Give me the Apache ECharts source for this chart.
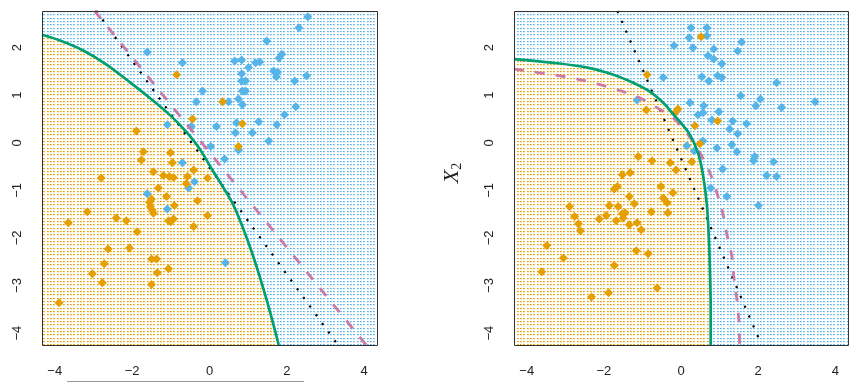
<!DOCTYPE html>
<html><head><meta charset="utf-8">
<script src="https://cdn.jsdelivr.net/npm/echarts@6/dist/echarts.min.js"></script>
<style>html,body{margin:0;padding:0;background:#fff}#c{width:868px;height:382px}</style>
</head><body><div id="c"></div>
<script>
// ---- tick labels ----
const xTicks = [-4, -2, 0, 2, 4];
const yTicks = [-4, -3, -2, -1, 0, 1, 2];
const xRange = [-4.33, 4.33];
const yRange = [-4.25, 2.77];
const yAxisTitle = 'X';
const yAxisSub = '2';

// ---- left panel (equal covariances) ----
const leftOrange = [[-0.85,1.43],[0.34,0.86],[-0.44,0.50],[0.85,0.40],[-1.89,0.25],[0.75,-0.08],[-1.71,-0.19],[-1.01,-0.21],[-1.76,-0.36],[-0.96,-0.42],[-0.41,-0.57],[-1.45,-0.61],[-1.19,-0.69],[-1.04,-0.71],[-0.93,-0.73],[-0.57,-0.71],[-0.05,-0.74],[-2.80,-0.74],[-1.32,-0.95],[-0.60,-0.86],[-1.11,-1.13],[-1.50,-1.18],[-0.31,-1.22],[-0.91,-1.32],[-1.53,-1.34],[-1.48,-1.41],[-1.45,-1.48],[-0.05,-1.53],[-2.15,-1.64],[-1.06,-1.64],[-0.93,-1.60],[-0.41,-1.76],[-2.41,-1.58],[-1.87,-1.87],[-2.62,-2.23],[-2.07,-2.21],[-1.50,-2.44],[-1.37,-2.44],[-1.06,-2.65],[-2.72,-2.54],[-1.35,-2.73],[-2.77,-2.94],[-1.50,-2.98],[-3.16,-1.45],[-3.65,-1.68],[-3.03,-2.75],[-3.89,-3.36],[-1.55,-1.25],[-1.00,-1.66]];
const leftBlue = [[-1.61,1.91],[-0.70,1.68],[-0.18,1.09],[-0.34,0.86],[-1.09,0.38],[-0.47,0.34],[0.18,0.34],[0.03,-0.08],[-0.70,-0.42],[2.54,2.65],[2.31,2.42],[1.48,2.14],[1.87,1.86],[1.80,1.78],[0.65,1.72],[0.83,1.74],[1.30,1.70],[1.19,1.68],[1.01,1.58],[1.66,1.51],[1.76,1.49],[1.73,1.39],[0.83,1.45],[0.83,1.30],[0.93,1.30],[2.20,1.30],[2.51,1.41],[0.85,1.09],[0.93,1.09],[0.49,0.86],[0.75,0.92],[0.85,0.80],[2.23,0.76],[1.94,0.59],[1.27,0.44],[1.74,0.38],[0.70,0.42],[0.67,0.21],[1.11,0.21],[1.53,0.04],[0.75,-0.15],[0.39,-0.34],[-0.39,-0.82],[-0.54,-0.95],[-1.61,-1.07],[-1.09,-1.39],[0.41,-2.52]];
const leftQDA = [[-4.33,2.27],[-3.83,2.14],[-3.29,1.95],[-2.69,1.66],[-2.07,1.28],[-1.48,0.90],[-0.98,0.55],[-0.60,0.23],[-0.26,-0.12],[0.05,-0.54],[0.31,-0.88],[0.60,-1.28],[0.85,-1.76],[1.09,-2.29],[1.30,-2.82],[1.55,-3.51],[1.79,-4.25]];
const leftBayes = [[-2.97,2.77],[4.05,-4.25]];
const leftLDA = [[-2.93,2.77],[3.32,-4.25]];

// ---- right panel (unequal covariances) ----
const rightOrange = [[0.52,2.23],[-0.88,1.43],[-0.90,0.69],[-0.08,0.71],[-0.13,0.65],[0.36,0.36],[0.95,0.46],[0.49,-0.02],[-0.75,-0.38],[-0.28,-0.42],[0.28,-0.40],[-0.13,-0.57],[-1.11,-0.29],[-1.52,-0.67],[-1.32,-0.63],[-1.73,-0.97],[-1.65,-0.92],[-0.52,-0.92],[-0.21,-1.05],[-1.34,-1.13],[-1.21,-1.28],[-0.46,-1.16],[-0.36,-1.26],[-1.86,-1.32],[-1.63,-1.34],[-2.89,-1.34],[-0.77,-1.45],[-1.52,-1.49],[-1.45,-1.47],[-0.34,-1.47],[-2.76,-1.55],[-1.94,-1.53],[-1.50,-1.58],[-2.12,-1.60],[-1.68,-1.64],[-2.66,-1.70],[-1.14,-1.68],[-1.34,-1.72],[-2.61,-1.85],[-1.03,-1.83],[-1.16,-2.27],[-0.85,-2.33],[-3.05,-2.42],[-1.73,-2.58],[-0.62,-3.05],[-1.88,-3.15],[-2.32,-3.24],[-3.48,-2.16],[-3.61,-2.71]];
const rightBlue = [[0.26,2.42],[0.67,2.42],[0.21,2.21],[0.67,2.25],[-0.18,2.04],[0.31,2.00],[0.85,1.97],[1.57,2.12],[1.47,1.93],[0.70,1.83],[0.85,1.76],[1.06,1.66],[-0.46,1.37],[0.54,1.39],[0.72,1.30],[0.95,1.41],[1.06,1.37],[2.48,1.26],[1.55,0.99],[2.06,0.92],[1.94,0.78],[2.61,0.74],[0.23,0.84],[0.59,0.78],[0.44,0.59],[0.57,0.63],[0.98,0.65],[0.80,0.48],[1.34,0.46],[1.70,0.40],[1.26,0.29],[1.47,0.19],[1.32,-0.04],[1.45,-0.19],[0.93,-0.11],[0.57,0.04],[0.15,-0.06],[0.34,-0.17],[1.91,-0.29],[1.88,-0.38],[2.40,-0.40],[3.48,0.86],[1.08,-0.55],[2.22,-0.69],[2.48,-0.71],[0.77,-0.95],[1.19,-1.13],[2.01,-1.32],[-1.14,0.90]];
const rightQDA = [[-4.33,1.76],[-3.30,1.68],[-2.43,1.58],[-1.75,1.43],[-1.24,1.26],[-0.80,1.07],[-0.46,0.84],[-0.21,0.61],[0.00,0.42],[0.23,0.17],[0.44,-0.21],[0.57,-0.67],[0.67,-1.30],[0.72,-1.97],[0.75,-2.67],[0.77,-3.51],[0.77,-4.25]];
const rightBayes = [[-4.33,1.55],[-3.82,1.49],[-2.68,1.34],[-1.63,1.11],[-1.06,0.94],[-0.67,0.76],[-0.20,0.52],[0.18,0.17],[0.49,-0.21],[0.75,-0.63],[0.93,-1.05],[1.08,-1.47],[1.19,-1.93],[1.32,-2.39],[1.37,-2.81],[1.44,-3.24],[1.50,-3.72],[1.52,-4.25]];
const rightLDA = [[-1.65,2.77],[2.09,-4.25]];

// ---- colours ----
const ORANGE = '#E69F00', BLUE = '#56B4E9', GREEN = '#009E73', PURPLE = '#CC79A7';

function makePattern(color) {
  const c = document.createElement('canvas');
  c.width = 10; c.height = 10;
  const g = c.getContext('2d');
  g.fillStyle = '#ffffff'; g.fillRect(0, 0, 10, 10);
  const pos = [0, 3, 7];
  for (const yy of pos) for (const xx of pos) {
    g.globalAlpha = 1; g.fillStyle = color; g.fillRect(xx, yy + 1, 1, 1);
    g.globalAlpha = 0.7; g.fillRect(xx + 1, yy + 1, 1, 1);
    g.globalAlpha = 0.18; g.fillRect(xx, yy + 2, 2, 1);
  }
  g.globalAlpha = 1;
  return { image: c, repeat: 'repeat' };
}
const orangePat = makePattern(ORANGE);
const bluePat = makePattern(BLUE);

const fmt = v => (v < 0 ? '\u2212' : '') + Math.abs(v);
const FONT = 'Liberation Sans';
const grids = [
  { left: 42, top: 11, width: 335, height: 334 },
  { left: 514, top: 11, width: 334, height: 334 }
];

function xAx(gi) {
  return { type: 'value', gridIndex: gi, min: xRange[0], max: xRange[1],
    axisLine: { show: false }, splitLine: { show: false },
    axisTick: { show: true, length: 8, customValues: xTicks, lineStyle: { color: '#555', width: 1 } },
    axisLabel: { customValues: xTicks, margin: 20, fontSize: 13, color: '#222', fontFamily: FONT, formatter: fmt } };
}
function yAx(gi) {
  return { type: 'value', gridIndex: gi, min: yRange[0], max: yRange[1],
    axisLine: { show: false }, splitLine: { show: false },
    axisTick: { show: true, length: 8, customValues: yTicks, lineStyle: { color: '#555', width: 1 } },
    axisLabel: { customValues: yTicks, rotate: 90, margin: 18, fontSize: 13, color: '#222', fontFamily: FONT, formatter: fmt } };
}

function panelSeries(p, orangePts, bluePts, qda, bayes, lda) {
  const fullRange = [[xRange[0], yRange[0]], [xRange[1], yRange[0]]];
  const base = { xAxisIndex: p, yAxisIndex: p, silent: true, animation: false };
  return [
    Object.assign({ type: 'line', data: fullRange, symbol: 'none', lineStyle: { width: 0 },
      areaStyle: { origin: 'end', color: bluePat, opacity: 1 }, z: 1 }, base),
    Object.assign({ type: 'line', data: qda, symbol: 'none', smooth: 0.35, lineStyle: { width: 0 },
      areaStyle: { origin: 'start', color: orangePat, opacity: 1 }, z: 1 }, base),
    Object.assign({ type: 'scatter', data: bluePts, symbol: 'diamond', symbolSize: 9,
      itemStyle: { color: BLUE, opacity: 1 }, z: 2 }, base),
    Object.assign({ type: 'scatter', data: orangePts, symbol: 'diamond', symbolSize: 9,
      itemStyle: { color: ORANGE, opacity: 1 }, z: 2 }, base),
    Object.assign({ type: 'line', data: lda, symbol: 'none',
      lineStyle: { color: '#000', width: 2.2, type: [2.2, 8.5], cap: 'butt' }, z: 3 }, base),
    Object.assign({ type: 'line', data: bayes, symbol: 'none', smooth: 0.3,
      lineStyle: { color: PURPLE, width: 2.8, type: [10, 11], cap: 'butt' }, z: 3 }, base),
    Object.assign({ type: 'line', data: qda, symbol: 'none', smooth: 0.35,
      lineStyle: { color: GREEN, width: 2.7 }, z: 4 }, base)
  ];
}

const chart = echarts.init(document.getElementById('c'), null, { renderer: 'canvas' });
chart.setOption({
  animation: false,
  backgroundColor: '#fff',
  grid: grids,
  xAxis: [xAx(0), xAx(1)],
  yAxis: [yAx(0), yAx(1)],
  series: panelSeries(0, leftOrange, leftBlue, leftQDA, leftBayes, leftLDA)
    .concat(panelSeries(1, rightOrange, rightBlue, rightQDA, rightBayes, rightLDA)),
  graphic: [
    { type: 'rect', z: 100, silent: true,
      shape: { x: grids[0].left + 0.5, y: grids[0].top + 0.5, width: grids[0].width, height: grids[0].height },
      style: { fill: 'none', stroke: '#333', lineWidth: 1 } },
    { type: 'rect', z: 100, silent: true,
      shape: { x: grids[1].left + 0.5, y: grids[1].top + 0.5, width: grids[1].width, height: grids[1].height },
      style: { fill: 'none', stroke: '#333', lineWidth: 1 } },
    { type: 'text', z: 100, silent: true, x: 452, y: 173, rotation: Math.PI / 2,
      style: { text: '{a|' + yAxisTitle + '}{b|' + yAxisSub + '}', align: 'center', verticalAlign: 'middle',
        rich: { a: { fontFamily: 'Liberation Serif', fontStyle: 'italic', fontSize: 22, fill: '#222' },
                b: { fontFamily: 'Liberation Serif', fontSize: 14, fill: '#222', padding: [10, 0, 0, 0] } } } },
    { type: 'line', z: 100, silent: true, shape: { x1: 67, y1: 381.5, x2: 304, y2: 381.5 },
      style: { stroke: '#999', lineWidth: 1 } }
  ]
});
</script>
</body></html>
